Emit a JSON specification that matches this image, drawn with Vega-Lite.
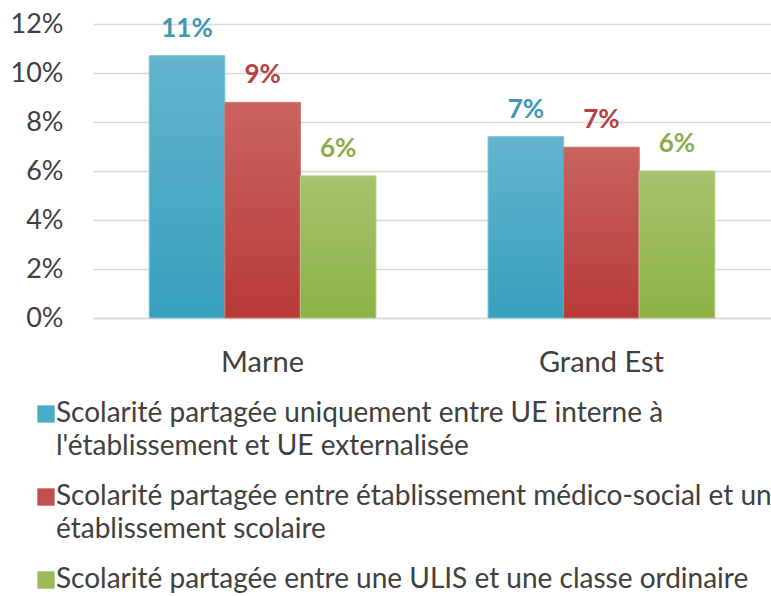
{
  "$schema": "https://vega.github.io/schema/vega-lite/v6.json",
  "width": 678,
  "height": 294,
  "autosize": {"type": "none"},
  "padding": {"left": 93, "top": 24, "right": 0, "bottom": 278},
  "background": "white",
  "config": {"font": "Lato", "view": {"stroke": null}, "style": {"guide-label": {"lineHeight": 33}}},
  "data": {
    "values": [
      {"region": "Marne", "series": "Scolarité partagée uniquement entre UE interne à\nl'établissement et UE externalisée", "value": 0.107},
      {"region": "Marne", "series": "Scolarité partagée entre établissement médico-social et un\nétablissement scolaire", "value": 0.088},
      {"region": "Marne", "series": "Scolarité partagée entre une ULIS et une classe ordinaire\n", "value": 0.058},
      {"region": "Grand Est", "series": "Scolarité partagée uniquement entre UE interne à\nl'établissement et UE externalisée", "value": 0.074},
      {"region": "Grand Est", "series": "Scolarité partagée entre établissement médico-social et un\nétablissement scolaire", "value": 0.0697},
      {"region": "Grand Est", "series": "Scolarité partagée entre une ULIS et une classe ordinaire\n", "value": 0.06}
    ]
  },
  "encoding": {
    "x": {
      "field": "region", "type": "nominal", "sort": ["Marne", "Grand Est"],
      "scale": {"paddingInner": 0.331, "paddingOuter": 0.166},
      "axis": {"title": null, "ticks": false, "labelAngle": 0, "labelFontSize": 29, "labelColor": "#404040", "labelPadding": 44, "labelBaseline": "middle", "domainColor": "#d9d9d9", "domainWidth": 1.5}
    },
    "xOffset": {
      "field": "series", "type": "nominal",
      "sort": ["Scolarité partagée uniquement entre UE interne à\nl'établissement et UE externalisée", "Scolarité partagée entre établissement médico-social et un\nétablissement scolaire", "Scolarité partagée entre une ULIS et une classe ordinaire\n"],
      "scale": {"paddingInner": 0, "paddingOuter": 0}
    },
    "y": {
      "field": "value", "type": "quantitative",
      "scale": {"domain": [0, 0.12]},
      "axis": {"title": null, "values": [0, 0.02, 0.04, 0.06, 0.08, 0.1, 0.12], "format": ".0%", "grid": true, "gridColor": "#d9d9d9", "gridWidth": 1.5, "domain": false, "ticks": false, "labelFontSize": 27, "labelColor": "#404040", "labelPadding": 30}
    }
  },
  "layer": [
    {
      "mark": {"type": "bar"},
      "encoding": {
        "color": {
          "field": "series", "type": "nominal",
          "scale": {
            "domain": ["Scolarité partagée uniquement entre UE interne à\nl'établissement et UE externalisée", "Scolarité partagée entre établissement médico-social et un\nétablissement scolaire", "Scolarité partagée entre une ULIS et une classe ordinaire\n"],
            "range": ["#4bacc6", "#c0504d", "#9bbb59"]
          },
          "legend": {
            "orient": "none", "legendX": -61, "legendY": 376, "direction": "vertical", "title": null,
            "labelExpr": "split(datum.label, '\\n')",
            "labelFontSize": 28, "labelColor": "#404040", "labelLimit": 0, "labelOffset": -4, "labelBaseline": "middle",
            "symbolType": "square", "symbolSize": 300, "symbolStrokeWidth": 0, "symbolOpacity": 1,
            "rowPadding": 22, "padding": 0
          }
        }
      }
    },
    {
      "transform": [{"filter": {"field": "series", "equal": "Scolarité partagée uniquement entre UE interne à\nl'établissement et UE externalisée"}}],
      "mark": {"type": "bar", "stroke": "#7cc3d8", "strokeWidth": 1, "color": {"gradient": "linear", "x1": 0, "y1": 0, "x2": 0, "y2": 1, "stops": [{"offset": 0, "color": "#63b4cd"}, {"offset": 1, "color": "#37a0bd"}]}}
    },
    {
      "transform": [{"filter": {"field": "series", "equal": "Scolarité partagée entre établissement médico-social et un\nétablissement scolaire"}}],
      "mark": {"type": "bar", "stroke": "#d17673", "strokeWidth": 1, "color": {"gradient": "linear", "x1": 0, "y1": 0, "x2": 0, "y2": 1, "stops": [{"offset": 0, "color": "#c9635f"}, {"offset": 1, "color": "#b83a37"}]}}
    },
    {
      "transform": [{"filter": {"field": "series", "equal": "Scolarité partagée entre une ULIS et une classe ordinaire\n"}}],
      "mark": {"type": "bar", "stroke": "#b3cd82", "strokeWidth": 1, "color": {"gradient": "linear", "x1": 0, "y1": 0, "x2": 0, "y2": 1, "stops": [{"offset": 0, "color": "#a7c36e"}, {"offset": 1, "color": "#8cb145"}]}}
    },
    {
      "mark": {"type": "text", "dy": -19, "baseline": "alphabetic", "fontSize": 26, "fontWeight": "bold"},
      "encoding": {
        "text": {"field": "value", "type": "quantitative", "format": ".0%"},
        "fill": {
          "field": "series", "type": "nominal", "legend": null,
          "scale": {
            "domain": ["Scolarité partagée uniquement entre UE interne à\nl'établissement et UE externalisée", "Scolarité partagée entre établissement médico-social et un\nétablissement scolaire", "Scolarité partagée entre une ULIS et une classe ordinaire\n"],
            "range": ["#3f97b3", "#b4423f", "#8aad4c"]
          }
        }
      }
    }
  ]
}
